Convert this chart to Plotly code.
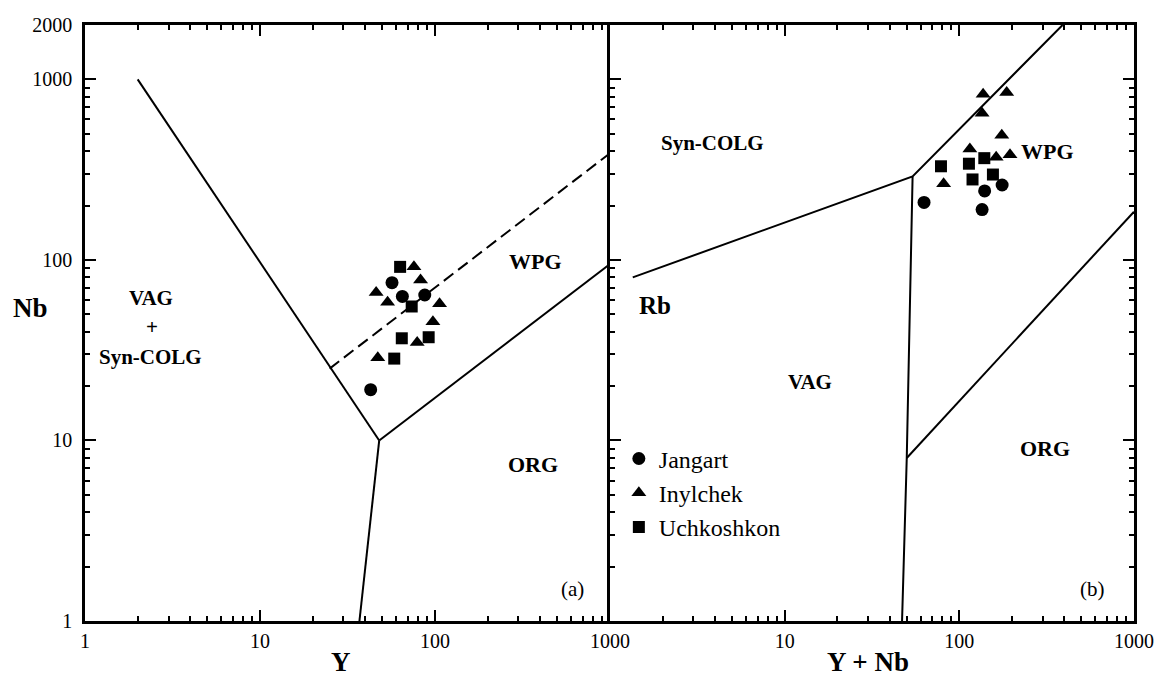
import plotly.graph_objects as go
import numpy as np

# ---------------- data ----------------
# Panel (a): Nb vs Y
a_jangart_y = [56.8, 65.1, 87.4, 42.9]
a_jangart_nb = [74.8, 62.8, 63.9, 19.1]
a_inylchek_y = [75.8, 82.7, 46.1, 53.6, 106.2, 97.3, 79.1, 47.1]
a_inylchek_nb = [91.5, 77.4, 66.0, 58.3, 57.1, 45.4, 34.9, 28.7]
a_uchkoshkon_y = [63.2, 73.6, 64.6, 92.0, 58.5]
a_uchkoshkon_nb = [91.5, 55.2, 36.8, 37.3, 28.4]

# Panel (b): Rb vs Y+Nb
b_jangart_ynb = [62.8, 139.6, 175.8, 135.0]
b_jangart_rb = [208, 241, 260, 190]
b_inylchek_ynb = [136.8, 186.7, 135.0, 175.0, 114.9, 162.5, 195.0, 81.3]
b_inylchek_rb = [827, 845, 650, 491, 412, 370, 382, 264]
b_uchkoshkon_ynb = [78.5, 113.5, 139.0, 119.0, 155.7]
b_uchkoshkon_rb = [330, 341, 366, 279, 297]

# Field boundaries, panel (a)
a_vag_wpg_x = [2, 48]
a_vag_wpg_y = [1000, 10]
a_vag_org_x = [48, 37]
a_vag_org_y = [10, 1]
a_wpg_org_x = [48, 1000]
a_wpg_org_y = [10, 95]
a_dash_x = [25, 1000]
a_dash_y = [25, 390]

# Field boundaries, panel (b)
b_syn_x = [1.35, 54, 390]
b_syn_y = [80, 290, 2000]
b_vag_wpg_x = [54, 50, 47]
b_vag_wpg_y = [290, 8, 1]
b_wpg_org_x = [50, 1000]
b_wpg_org_y = [8, 185]

x_major = [1, 10, 100, 1000]
x_major_text = ["1", "10", "100", "1000"]
x2_major = [10, 100, 1000]
x2_major_text = ["10", "100", "1000"]
y_major = [1, 10, 100, 1000, 2000]
y_major_text = ["1", "10", "100", "1000", "2000"]
minor_vals = [m * 10 ** d for d in range(0, 4) for m in range(2, 10)]

FONT = "Liberation Serif, Times New Roman, serif"

fig = go.Figure()

def boundary(x, y, xa, ya, dash="solid"):
    fig.add_trace(go.Scatter(x=x, y=y, mode="lines", xaxis=xa, yaxis=ya,
                             line=dict(color="black", width=2, dash=dash),
                             showlegend=False, hoverinfo="skip"))

boundary(a_vag_wpg_x, a_vag_wpg_y, "x", "y")
boundary(a_vag_org_x, a_vag_org_y, "x", "y")
boundary(a_wpg_org_x, a_wpg_org_y, "x", "y")
boundary(a_dash_x, a_dash_y, "x", "y", dash="12px,6px")
boundary(b_syn_x, b_syn_y, "x2", "y2")
boundary(b_vag_wpg_x, b_vag_wpg_y, "x2", "y2")
boundary(b_wpg_org_x, b_wpg_org_y, "x2", "y2")

series = [
    ("Jangart", "circle", 13, a_jangart_y, a_jangart_nb, b_jangart_ynb, b_jangart_rb),
    ("Inylchek", "triangle-up", 13, a_inylchek_y, a_inylchek_nb, b_inylchek_ynb, b_inylchek_rb),
    ("Uchkoshkon", "square", 12, a_uchkoshkon_y, a_uchkoshkon_nb, b_uchkoshkon_ynb, b_uchkoshkon_rb),
]
for name, sym, size, ax, ay, bx, by in series:
    fig.add_trace(go.Scatter(x=ax, y=ay, mode="markers", xaxis="x", yaxis="y",
                             name=name, legendgroup=name, showlegend=False,
                             marker=dict(symbol=sym, size=size, color="black")))
    fig.add_trace(go.Scatter(x=bx, y=by, mode="markers", xaxis="x2", yaxis="y2",
                             name=name, legendgroup=name, showlegend=True,
                             marker=dict(symbol=sym, size=size, color="black")))

axis_common = dict(type="log", showgrid=False, zeroline=False, showline=True,
                   linecolor="black", linewidth=2.5, ticks="inside",
                   tickcolor="black", tickwidth=1.5, ticklen=11,
                   ticklabeloverflow="allow",
                   tickfont=dict(family=FONT, size=20, color="black"),
                   minor=dict(tickvals=minor_vals, ticks="inside", ticklen=5,
                              tickcolor="black", tickwidth=1.5, showgrid=False))

# the page body has an 8px margin, so the figure is drawn 16px smaller
W, H = 1152, 672
L, T, R = 77, 6, 10
PW = W - L - R          # 1065
PH = 607
B = H - T - PH
D = (618 - 85) / PW

def px(sx):   # reference screen x -> paper
    return (sx - 85) / PW

def py(sy):   # reference screen y -> paper
    return (621 - sy) / PH

fig.update_layout(
    width=W, height=H,
    margin=dict(l=L, r=R, t=T, b=B),
    paper_bgcolor="white", plot_bgcolor="white",
    font=dict(family=FONT, color="black"),
    xaxis=dict(axis_common, domain=[0, D], range=[0, 3], anchor="y",
               tickvals=x_major, ticktext=x_major_text, mirror="ticks"),
    xaxis2=dict(axis_common, domain=[D, 1], range=[0, 3], anchor="y2",
                tickvals=x2_major, ticktext=x2_major_text, mirror="ticks"),
    yaxis=dict(axis_common, domain=[0, 1], range=[0, np.log10(2000)], anchor="x",
               tickvals=y_major, ticktext=y_major_text, mirror=False,
               ticklabelstandoff=6),
    yaxis2=dict(axis_common, domain=[0, 1], range=[0, np.log10(2000)], anchor="x2",
                tickvals=y_major, ticktext=[""] * 5, mirror="ticks"),
    legend=dict(x=px(627), y=py(433), xanchor="left", yanchor="top",
                tracegroupgap=0, bgcolor="rgba(0,0,0,0)",
                font=dict(family=FONT, size=24, color="black")),
)

def lab(text, x, y, xref, yref, size=20, bold=True, yanchor="middle"):
    t = "<b>%s</b>" % text if bold else text
    fig.add_annotation(text=t, x=x, y=y, xref=xref, yref=yref, showarrow=False,
                       font=dict(family=FONT, size=size, color="black"),
                       xanchor="center", yanchor=yanchor)

# panel (a) field labels (log10 coordinates)
lab("VAG", 0.377, 1.791, "x", "y", 21)
lab("+", 0.385, 1.628, "x", "y", 21)
lab("Syn-COLG", 0.377, 1.464, "x", "y", 21)
lab("WPG", 2.572, 1.992, "x", "y", 22)
lab("ORG", 2.560, 0.866, "x", "y", 22)
lab("(a)", 2.786, 0.180, "x", "y", 21, bold=False)
# panel (b) field labels
lab("Syn-COLG", 0.587, 2.646, "x2", "y2", 21)
lab("Rb", 0.255, 1.747, "x2", "y2", 25)
lab("VAG", 1.145, 1.323, "x2", "y2", 21)
lab("WPG", 2.504, 2.602, "x2", "y2", 22)
lab("ORG", 2.493, 0.958, "x2", "y2", 22)
lab("(b)", 2.764, 0.180, "x2", "y2", 21, bold=False)
# axis titles
lab("Nb", px(30), py(302), "paper", "paper", 27)
lab("Y", px(345), py(680), "paper", "paper", 27, yanchor="bottom")
lab("Y + Nb", px(880), py(680), "paper", "paper", 27, yanchor="bottom")

fig.write_html("out.html")
